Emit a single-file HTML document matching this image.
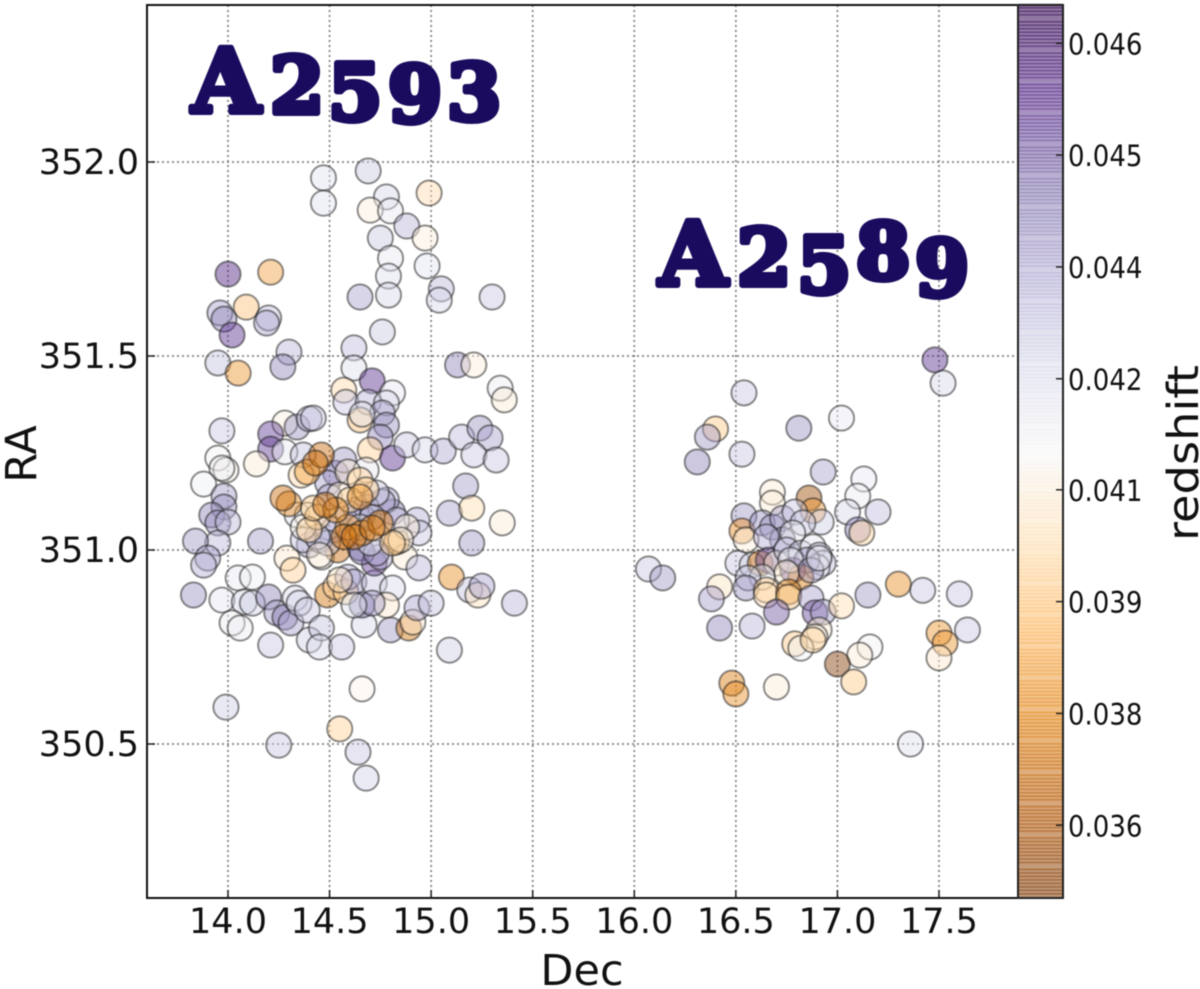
<!DOCTYPE html>
<html lang="en">
<head>
<meta charset="utf-8">
<title>A2593 and A2589 redshift scatter</title>
<style>
html,body{margin:0;padding:0;background:#fff;width:1200px;height:989px;overflow:hidden}
svg{display:block;filter:blur(.45px)}
text{font-family:"DejaVu Sans","Liberation Sans",sans-serif;fill:#111}
.cluster-label{font-family:"DejaVu Serif","Liberation Serif",serif;font-weight:bold;fill:#1b0b5e;stroke:#1b0b5e;stroke-width:6px;stroke-linejoin:round}
</style>
</head>
<body>
<svg id="chart" xmlns="http://www.w3.org/2000/svg" width="1200" height="989" viewBox="0 0 1200 989">
<rect width="1200" height="989" fill="#fff"/>
<g id="grid"></g>
<g id="points"></g>
<g id="colorbar"></g>
<rect x="147" y="5" width="871" height="893" fill="none" stroke="#111" stroke-width="2"/>
<rect x="1018" y="5" width="45" height="893" fill="none" stroke="#222" stroke-width="2"/>
<g id="ticks"></g>
<text x="582" y="985" font-size="43" text-anchor="middle">Dec</text>
<text transform="translate(36,454) rotate(-90)" font-size="43" text-anchor="middle">RA</text>
<text transform="translate(1198,453) rotate(-90)" font-size="43" text-anchor="middle" textLength="176" lengthAdjust="spacingAndGlyphs">redshift</text>
<text class="cluster-label"><tspan font-size="88" x="192" y="112">A</tspan><tspan font-size="78" x="270" y="113">2</tspan><tspan font-size="78" x="328" y="120">5</tspan><tspan font-size="78" x="388" y="122">9</tspan><tspan font-size="78" x="447" y="120">3</tspan></text>
<text class="cluster-label"><tspan font-size="88" x="659" y="285">A</tspan><tspan font-size="78" x="737" y="285">2</tspan><tspan font-size="78" x="797" y="293">5</tspan><tspan font-size="78" x="856" y="279">8</tspan><tspan font-size="78" x="915" y="296">9</tspan></text>
</svg>
<script>
const decValues = [
14.69,14.47,14.47,14.78,14.99,14.70,14.80,14.88,14.75,14.97,
14.80,14.98,14.79,14.79,15.05,15.04,14.65,15.30,14.76,14.00,
14.21,14.09,13.96,13.98,14.02,14.20,14.19,14.30,14.27,13.95,
14.05,14.62,14.62,15.13,15.21,14.71,14.57,15.34,15.36,14.81,
14.58,14.69,14.78,14.76,14.65,14.66,14.78,14.75,14.28,14.34,
14.40,14.42,13.97,14.21,14.21,13.95,13.99,13.97,13.88,14.14,
14.28,14.37,14.70,14.81,14.88,14.97,15.06,15.15,15.24,15.29,
15.21,15.32,15.17,15.09,15.20,15.35,15.20,15.10,15.19,15.23,
15.25,15.41,13.98,13.98,13.92,13.95,14.00,13.95,13.84,14.16,
13.90,13.88,13.83,13.97,14.05,14.12,14.08,14.12,14.20,14.24,
14.28,14.31,14.33,14.35,14.39,14.02,14.06,14.21,14.40,14.46,
14.45,14.56,14.67,14.80,14.89,14.91,14.93,15.00,15.09,14.49,
14.53,14.58,14.59,14.62,14.55,14.72,14.81,14.78,14.66,14.71,
14.62,14.29,14.32,14.46,14.54,14.65,14.72,14.75,14.87,14.94,
14.93,14.94,14.83,14.81,14.46,14.43,14.39,14.36,14.27,14.30,
14.34,14.57,14.53,14.49,14.59,14.65,14.73,14.78,14.68,14.42,
14.48,14.53,14.44,14.39,14.50,14.60,14.55,14.65,14.68,14.63,
14.66,14.59,14.57,14.62,14.71,14.75,14.66,14.40,14.37,14.44,
14.40,14.37,14.45,14.81,14.85,14.88,14.83,14.76,14.66,14.73,
14.49,14.52,14.64,14.68,14.59,14.71,14.65,14.70,14.45,14.49,
14.66,13.99,14.55,14.25,14.64,14.68,16.54,17.02,16.81,16.40,
16.36,16.31,16.53,16.93,17.13,17.10,17.20,17.05,17.10,17.12,
16.68,16.68,16.86,16.88,16.92,16.54,16.53,16.55,16.63,16.68,
16.73,16.79,16.73,16.65,16.83,16.78,16.51,16.58,16.62,16.66,
16.70,16.75,16.82,16.88,16.91,16.93,16.90,16.85,16.78,16.82,
16.77,16.75,16.87,16.91,16.63,16.56,16.07,16.14,16.42,16.38,
16.55,16.65,16.65,16.76,16.76,16.70,16.87,16.89,16.93,16.91,
16.89,17.02,17.15,17.30,17.42,17.60,16.42,16.58,16.79,16.82,
16.88,17.16,17.11,17.00,17.08,17.50,17.53,17.50,17.64,16.48,
16.50,16.70,17.48,17.52,17.36
];
const raValues = [
351.977,351.959,351.894,351.910,351.920,351.876,351.874,351.835,351.804,351.804,
351.752,351.732,351.706,351.657,351.673,351.644,351.652,351.652,351.562,351.711,
351.716,351.626,351.611,351.595,351.554,351.598,351.585,351.510,351.472,351.482,
351.456,351.521,351.469,351.477,351.477,351.436,351.412,351.417,351.387,351.405,
351.381,351.381,351.379,351.353,351.335,351.350,351.322,351.291,351.327,351.317,
351.338,351.340,351.307,351.299,351.260,351.237,351.206,351.211,351.170,351.222,
351.253,351.245,351.258,351.237,351.271,351.258,351.255,351.291,351.314,351.289,
351.245,351.232,351.165,351.095,351.108,351.070,351.018,350.930,350.897,350.884,
350.907,350.863,351.139,351.111,351.090,351.070,351.072,351.018,351.023,351.023,
350.979,350.961,350.884,350.871,350.928,350.930,350.866,350.863,350.879,350.838,
350.827,350.812,350.876,350.863,350.845,350.812,350.799,350.755,350.768,350.799,
350.750,350.750,350.807,350.794,350.799,350.814,350.851,350.863,350.742,350.884,
350.905,350.892,350.930,350.918,350.923,350.915,350.902,350.858,350.858,350.863,
350.858,350.979,350.948,350.982,351.000,351.005,350.966,350.982,350.982,350.954,
351.077,351.044,351.021,351.098,351.245,351.224,351.201,351.193,351.134,351.119,
351.090,351.232,351.198,351.173,351.201,351.180,351.147,351.129,351.206,351.108,
351.116,351.103,351.085,351.090,351.137,351.129,351.142,351.137,351.155,351.103,
351.085,351.059,351.034,351.034,351.057,351.070,351.044,351.052,351.059,351.034,
351.013,351.026,350.987,351.018,351.026,351.059,351.077,351.124,350.995,350.992,
351.059,351.052,351.085,351.111,351.095,351.085,351.059,351.018,351.026,351.018,
350.642,350.595,350.539,350.497,350.479,350.412,351.405,351.340,351.314,351.312,
351.291,351.227,351.247,351.201,351.183,351.139,351.098,351.098,351.052,351.044,
351.149,351.121,351.134,351.101,351.072,351.088,351.049,351.026,351.070,351.059,
351.082,351.098,351.026,351.034,351.070,351.044,350.966,350.961,350.966,350.974,
350.966,351.000,350.992,351.008,350.987,350.966,350.956,350.974,350.948,350.930,
350.974,350.941,350.948,350.979,350.930,350.928,350.951,350.928,350.905,350.874,
350.902,350.897,350.884,350.892,350.879,350.840,350.876,350.838,350.840,350.794,
350.776,350.856,350.884,350.912,350.896,350.887,350.799,350.804,350.758,350.747,
350.768,350.750,350.729,350.706,350.660,350.786,350.760,350.722,350.794,350.657,
350.629,350.647,351.490,351.430,350.500
];
const redshiftValues = [
.0423,.0416,.0416,.0420,.0395,.0403,.0413,.0428,.0423,.0403,
.0413,.0415,.0417,.0420,.0427,.0420,.0432,.0424,.0423,.0455,
.0380,.0388,.0432,.0438,.0452,.0425,.0432,.0428,.0438,.0425,
.0378,.0426,.0417,.0438,.0403,.0452,.0395,.0412,.0402,.0414,
.0424,.0428,.0420,.0434,.0388,.0416,.0436,.0438,.0404,.0436,
.0428,.0424,.0424,.0450,.0450,.0410,.0405,.0412,.0411,.0402,
.0413,.0425,.0392,.0452,.0424,.0420,.0431,.0426,.0435,.0432,
.0424,.0424,.0433,.0432,.0396,.0402,.0434,.0376,.0425,.0398,
.0432,.0428,.0434,.0436,.0438,.0436,.0428,.0427,.0434,.0433,
.0432,.0430,.0436,.0414,.0413,.0411,.0421,.0421,.0438,.0434,
.0442,.0432,.0420,.0420,.0424,.0412,.0412,.0424,.0422,.0425,
.0418,.0424,.0420,.0434,.0370,.0400,.0432,.0425,.0422,.0370,
.0392,.0390,.0430,.0434,.0400,.0424,.0418,.0400,.0442,.0434,
.0416,.0400,.0392,.0405,.0368,.0442,.0450,.0432,.0402,.0428,
.0430,.0424,.0378,.0440,.0368,.0368,.0380,.0395,.0368,.0376,
.0416,.0434,.0444,.0432,.0402,.0392,.0424,.0432,.0414,.0390,
.0368,.0376,.0392,.0405,.0432,.0392,.0402,.0378,.0392,.0432,
.0442,.0378,.0368,.0368,.0368,.0372,.0378,.0392,.0405,.0424,
.0432,.0425,.0403,.0392,.0402,.0403,.0425,.0432,.0442,.0432,
.0425,.0432,.0432,.0432,.0425,.0425,.0415,.0415,.0432,.0425,
.0406,.0422,.0392,.0424,.0424,.0421,.0424,.0413,.0436,.0390,
.0434,.0438,.0424,.0432,.0413,.0412,.0426,.0420,.0440,.0394,
.0402,.0402,.0358,.0378,.0422,.0434,.0376,.0403,.0436,.0436,
.0434,.0424,.0436,.0430,.0424,.0414,.0424,.0420,.0368,.0448,
.0402,.0425,.0424,.0414,.0425,.0425,.0414,.0432,.0455,.0372,
.0414,.0402,.0434,.0414,.0414,.0424,.0424,.0434,.0398,.0433,
.0436,.0390,.0396,.0374,.0392,.0446,.0432,.0448,.0434,.0402,
.0403,.0396,.0434,.0376,.0424,.0424,.0438,.0428,.0390,.0410,
.0392,.0410,.0402,.0352,.0390,.0378,.0378,.0400,.0424,.0372,
.0376,.0402,.0452,.0420,.0417
];
const xTickValues = [14.0,14.5,15.0,15.5,16.0,16.5,17.0,17.5];
const yTickValues = [350.5,351.0,351.5,352.0];
const cbTickValues = [0.0360,0.03743,0.03886,0.04029,0.04171,0.04314,0.04457,0.0460];
const cbTickLabels = ['0.036','0.038','0.039','0.041','0.042','0.044','0.045','0.046'];
const colormapStops = ['#7f3b08','#b35806','#e08214','#fdb863','#fee0b6','#f7f7f7','#d8daeb','#b2abd2','#8073ac','#542788','#2d004b'];

const NS = 'http://www.w3.org/2000/svg';
const xPos = d => 228 + (d - 14) * 203.14;
const yPos = r => 550 - (r - 351) * 388;
const zMin = 0.03507, zMax = 0.04649;
const zPos = z => 898 - (z - zMin) / (zMax - zMin) * 893;
function mapColor(t) {
  t = Math.max(0, Math.min(1, t)) * (colormapStops.length - 1);
  const i = Math.min(Math.floor(t), colormapStops.length - 2), f = t - i;
  const a = colormapStops[i], b = colormapStops[i + 1];
  const ch = k => Math.round(parseInt(a.substr(k, 2), 16) * (1 - f) + parseInt(b.substr(k, 2), 16) * f);
  return 'rgb(' + ch(1) + ',' + ch(3) + ',' + ch(5) + ')';
}
const zColor = z => mapColor((z - zMin) / (zMax - zMin));
function make(tag, attrs, parent) {
  const el = document.createElementNS(NS, tag);
  for (const k in attrs) el.setAttribute(k, attrs[k]);
  parent.appendChild(el);
  return el;
}
const grid = document.getElementById('grid');
const ticks = document.getElementById('ticks');
const points = document.getElementById('points');
const cbar = document.getElementById('colorbar');
const dots = {stroke: '#808080', 'stroke-width': 1.7, 'stroke-dasharray': '2 3'};

xTickValues.forEach((v, i) => {
  const x = xPos(v);
  const g = make('line', Object.assign({x1: x, x2: x, y1: 5, y2: 898}, dots), grid);
  
  
  const t = make('line', {x1: x, x2: x, y1: 898, y2: 890, stroke: '#222', 'stroke-width': 1.5}, ticks);
  
  
  const l = make('text', {x: x, y: 933, 'font-size': 35, 'text-anchor': 'middle'}, ticks);
  
  
  l.textContent = v.toFixed(1);
});
yTickValues.forEach(v => {
  const y = yPos(v);
  const g = make('line', Object.assign({x1: 147, x2: 1018, y1: y, y2: y}, dots), grid);
  
  
  const t = make('line', {x1: 147, x2: 155, y1: y, y2: y, stroke: '#222', 'stroke-width': 1.5}, ticks);
  
  
  const l = make('text', {x: 139, y: y + 12, 'font-size': 35, 'text-anchor': 'end'}, ticks);
  
  
  l.textContent = v.toFixed(1);
});
const denseStart = 144, denseEnd = 200;
const drawOrder = decValues.map((_, i) => i);
const denseOrder = drawOrder.slice(denseStart, denseEnd).sort((a, b) => redshiftValues[b] - redshiftValues[a]);
denseOrder.forEach((idx, k) => { drawOrder[denseStart + k] = idx; });
drawOrder.forEach(i => {
  const c = make('circle', {
    cx: xPos(decValues[i]), cy: yPos(raValues[i]), r: 12.6,
    fill: zColor(redshiftValues[i]), 'fill-opacity': 0.46,
    stroke: '#222', 'stroke-opacity': 0.5, 'stroke-width': 2
  }, points);
  
  
});
const levels = 256;
for (let i = 0; i < levels; i++) {
  const z = zMin + (i + 0.5) / levels * (zMax - zMin);
  const h = 893 / levels;
  const extra = (i % 9 === 8) ? 0 : 1.3;
  const yBottom = 898 - i * h;
  const s = make('rect', {x: 1018, y: yBottom - h - extra, width: 45, height: h + extra, fill: zColor(z), 'fill-opacity': 0.55}, cbar);
  
  
}
cbTickValues.forEach((v, i) => {
  const y = zPos(v);
  const t = make('line', {x1: 1056, x2: 1063, y1: y, y2: y, stroke: '#222', 'stroke-width': 1.5}, ticks);
  
  
  const l = make('text', {transform: 'translate(1068,' + (y + 11) + ') scale(1,1.14)', 'font-size': 26}, ticks);
  
  
  l.textContent = cbTickLabels[i];
});
</script>
</body>
</html>
